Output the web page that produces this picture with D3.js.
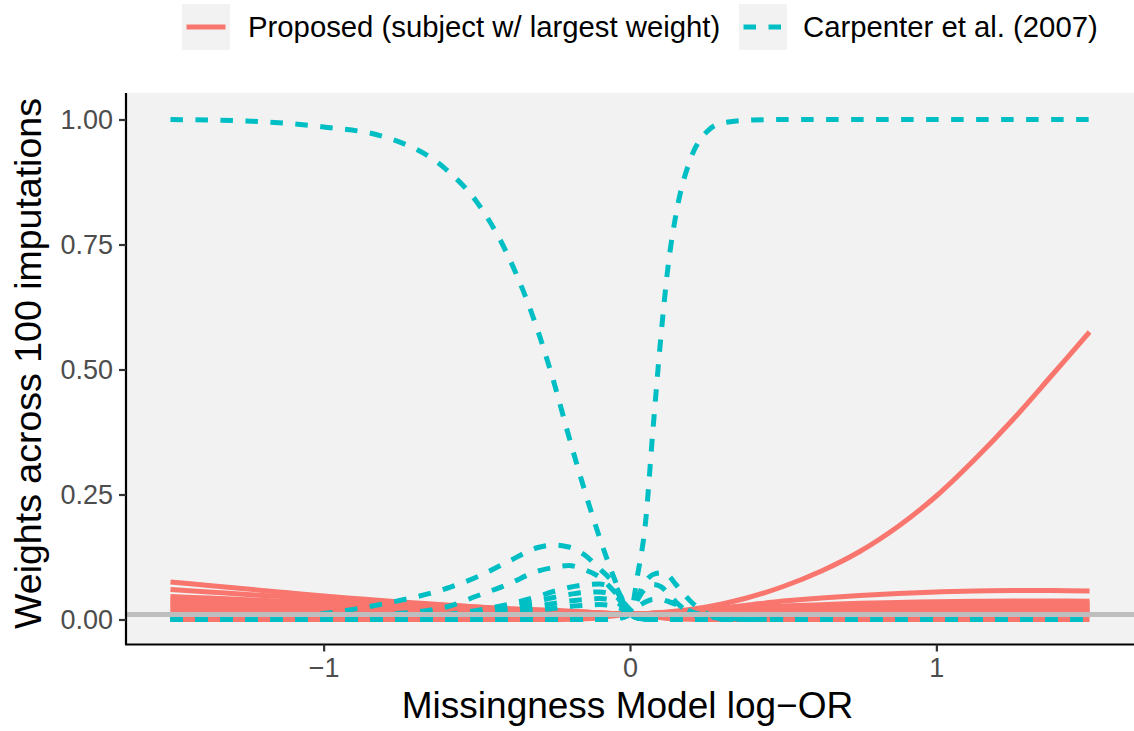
<!DOCTYPE html>
<html>
<head>
<meta charset="utf-8">
<script src="https://cdn.jsdelivr.net/npm/d3@7"></script>
<style>
  html, body { margin: 0; padding: 0; background: #ffffff; }
  svg { display: block; font-family: "Liberation Sans", Arial, sans-serif; }
</style>
</head>
<body>
<svg id="chart" width="1134" height="731"></svg>
<script>
// ---------------- data ----------------
// log-OR grid for the proposed method (every 0.125)
const xGridProp = [-1.5,-1.375,-1.25,-1.125,-1,-0.875,-0.75,-0.625,-0.5,-0.375,-0.25,-0.125,0,
                   0.125,0.25,0.375,0.5,0.625,0.75,0.875,1,1.125,1.25,1.375,1.5];
// log-OR grid for Carpenter et al. (denser near 0)
const xGridCarp = [-1.5,-1.25,-1,-0.8,-0.6,-0.5,-0.4,-0.3,-0.25,-0.2,-0.15,-0.1,-0.05,0,
                   0.025,0.05,0.075,0.1,0.125,0.15,0.2,0.25,0.3,0.4,0.5,0.75,1,1.25,1.5];

// Proposed (subject w/ largest weight) – weights across imputations
const propA = [0.075,0.068,0.061,0.054,0.047,0.041,0.035,0.030,0.025,0.0205,0.018,0.014,0.011,
               0.015,0.025,0.042,0.066,0.097,0.136,0.186,0.247,0.32,0.40,0.487,0.575];
const propB = [0.06,0.055,0.05,0.0455,0.041,0.0365,0.0325,0.0285,0.025,0.021,0.018,0.014,0.011,
               0.014,0.02,0.028,0.037,0.043,0.048,0.052,0.055,0.057,0.058,0.058,0.057];
const propC = [0.046,0.0429,0.0397,0.0367,0.0338,0.0311,0.0285,0.0257,0.0229,0.0198,0.0168,0.0138,0.011,
               0.0144,0.0188,0.0232,0.0269,0.0297,0.0323,0.0341,0.0354,0.0364,0.037,0.037,0.0367];
const propD = [0.04,0.0374,0.0348,0.0323,0.0299,0.0277,0.0255,0.0232,0.0209,0.0183,0.0158,0.0133,0.011,
               0.0136,0.017,0.0204,0.0232,0.0254,0.0274,0.0288,0.0298,0.0305,0.031,0.031,0.0308];
const propE = [0.034,0.0319,0.0299,0.0279,0.026,0.0242,0.0225,0.0207,0.0188,0.0168,0.0148,0.0128,0.011,
               0.013,0.0155,0.0181,0.0202,0.0218,0.0233,0.0244,0.0251,0.0256,0.026,0.026,0.0259];
const propF = [0.028,0.0265,0.0249,0.0235,0.0221,0.0208,0.0195,0.0181,0.0168,0.0153,0.0138,0.0124,0.011,
               0.0123,0.014,0.0157,0.0171,0.0182,0.0192,0.0199,0.0204,0.0208,0.021,0.021,0.0209];
const propG = [0.022,0.021,0.02,0.0191,0.0182,0.0173,0.0165,0.0156,0.0147,0.0138,0.0128,0.0119,0.011,
               0.0118,0.0128,0.0138,0.0147,0.0153,0.0159,0.0163,0.0166,0.0169,0.017,0.017,0.0169];
const propH = [0.016,0.0155,0.0151,0.0147,0.0143,0.0139,0.0135,0.0131,0.0127,0.0123,0.0118,0.0114,0.011,
               0.0113,0.0116,0.0119,0.0121,0.0123,0.0125,0.0127,0.0128,0.0129,0.013,0.013,0.013];
const propZ = [0,0,0,0,0,0,0,0,0,0,0,0.002,0.01,
               0.002,0,0,0,0,0,0,0,0,0,0,0];

// Carpenter et al. (2007) – weights across imputations
const carpA = [1.0,0.997,0.985,0.965,0.90,0.835,0.73,0.576,0.478,0.367,0.262,0.165,0.08,0.01,
               0.003,0.001,0,0,0,0,0,0,0,0,0,0,0,0,0];
const carpB = [0,0,0,0,0,0,0,0,0,0,0,0,0.001,0.01,
               0.09,0.19,0.38,0.56,0.71,0.81,0.925,0.975,0.993,0.999,1,1,1,1,1];
const carpC = [0,0.003,0.012,0.032,0.062,0.085,0.115,0.144,0.149,0.145,0.13,0.102,0.07,0.012,
               0.003,0.001,0,0,0,0,0,0,0,0,0,0,0,0,0];
const carpD = [0,0.001,0.004,0.01,0.025,0.047,0.07,0.097,0.104,0.108,0.1,0.085,0.055,0.02,
               0.006,0.002,0,0,0,0,0,0,0,0,0,0,0,0,0];
const carpE = [0,0,0,0,0,0,0,0,0,0,0,0,0.002,0.012,
               0.045,0.075,0.09,0.093,0.088,0.07,0.035,0.012,0.004,0.0005,0,0,0,0,0];
const carpF = [0,0,0,0,0,0,0,0,0,0,0,0,0.002,0.012,
               0.04,0.062,0.07,0.066,0.052,0.035,0.012,0.003,0.001,0,0,0,0,0,0];
const carpG = [0,0,0.001,0.003,0.01,0.018,0.03,0.046,0.056,0.064,0.069,0.071,0.06,0.012,
               0.003,0.001,0,0,0,0,0,0,0,0,0,0,0,0,0];
const carpH = [0,0,0.001,0.002,0.008,0.014,0.024,0.037,0.044,0.05,0.054,0.055,0.048,0.012,
               0.003,0.001,0,0,0,0,0,0,0,0,0,0,0,0,0];
const carpI = [0,0,0,0.001,0.006,0.01,0.017,0.027,0.032,0.037,0.04,0.042,0.037,0.011,
               0.003,0.001,0,0,0,0,0,0,0,0,0,0,0,0,0];
const carpJ = [0,0,0,0.001,0.004,0.007,0.012,0.019,0.022,0.026,0.028,0.03,0.027,0.011,
               0.003,0.001,0,0,0,0,0,0,0,0,0,0,0,0,0];
const carpK = [0,0,0,0,0,0,0,0,0,0,0,0,0.001,0.011,
               0.025,0.035,0.04,0.04,0.036,0.03,0.016,0.007,0.002,0,0,0,0,0,0];
const carpZ = [0,0,0,0,0,0,0,0,0,0,0,0,0.003,0.01,
               0.004,0.001,0,0,0,0,0,0,0,0,0,0,0,0,0];

const proposedSeries = [propZ, propH, propG, propF, propE, propD, propC, propB, propA];
const carpenterSeries = [carpZ, carpA, carpB, carpC, carpD, carpE, carpF, carpG, carpH, carpI, carpJ, carpK];

const referenceWeight = 0.01; // 1 / 100 imputations
const xTicks = [-1, 0, 1];
const yTicks = [0, 0.25, 0.5, 0.75, 1];
const legendLabels = ["Proposed (subject w/ largest weight)", "Carpenter et al. (2007)"];
const xTitle = "Missingness Model log\u2212OR";
const yTitle = "Weights across 100 imputations";

// ---------------- layout ----------------
const RED = "#F8766D", CYAN = "#00BFC4";
const DASH = 12.5, PERIOD = 25;
const svg = d3.select("#chart");
const panel = { left: 125, right: 1136, top: 93, bottom: 644.5 };

const x = d3.scaleLinear().domain([-1.65, 1.65]).range([124.5, 1135.5]);
const y = d3.scaleLinear().domain([-0.05, 1.05]).range([644.5, 94.5]);

// panel background
svg.append("rect")
  .attr("x", panel.left).attr("y", panel.top)
  .attr("width", panel.right - panel.left).attr("height", panel.bottom - panel.top)
  .attr("fill", "#F2F2F2");

const redLine = d3.line()
  .x(d => x(d[0])).y(d => y(d[1]))
  .curve(d3.curveCatmullRom.alpha(0.5));
const cyanLine = d3.line()
  .x(d => x(d[0])).y(d => y(d[1]))
  .curve(d3.curveMonotoneX);

const g = svg.append("g");
g.selectAll("path.prop").data(proposedSeries).join("path")
  .attr("class", "prop")
  .attr("d", vals => redLine(vals.map((v, i) => [xGridProp[i], v])))
  .attr("fill", "none").attr("stroke", RED)
  .attr("stroke-width", 5).attr("stroke-linecap", "butt").attr("stroke-linejoin", "round");

// Carpenter lines: flat zero runs are drawn with dashes aligned to a common phase
const x0px = x(xGridCarp[0]);
const phase = px => ((px - x0px) % PERIOD + PERIOD) % PERIOD;
carpenterSeries.forEach(vals => {
  const pts = vals.map((v, i) => [xGridCarp[i], v]);
  const n = vals.length;
  const first = vals.findIndex(v => v !== 0);
  let last = n - 1;
  while (last >= 0 && vals[last] === 0) last--;
  const pieces = [];
  const a = Math.max(first - 1, 0), b = Math.min(last + 1, n - 1);
  if (a > 0) pieces.push(pts.slice(0, a + 1));
  pieces.push(pts.slice(a, b + 1));
  if (b < n - 1) pieces.push(pts.slice(b, n));
  pieces.forEach(p => {
    g.append("path")
      .attr("d", cyanLine(p))
      .attr("fill", "none").attr("stroke", CYAN)
      .attr("stroke-width", 5)
      .attr("stroke-dasharray", `${DASH},${DASH}`)
      .attr("stroke-dashoffset", phase(x(p[0][0])))
      .attr("stroke-linecap", "butt").attr("stroke-linejoin", "round");
  });
});

// reference line at 1/100
svg.append("line")
  .attr("x1", panel.left).attr("x2", panel.right)
  .attr("y1", y(referenceWeight)).attr("y2", y(referenceWeight))
  .attr("stroke", "#BEBEBE").attr("stroke-width", 5);

// axes
const xAxis = d3.axisBottom(x).tickValues(xTicks).tickSize(7).tickPadding(6)
  .tickFormat(d => d < 0 ? "\u2212" + Math.abs(d) : String(d));
const gx = svg.append("g").attr("transform", `translate(0,${panel.bottom})`).call(xAxis);
gx.select(".domain").attr("d", `M${panel.left},0H${panel.right}`).attr("stroke", "#000").attr("stroke-width", 2.2);
gx.selectAll(".tick line").attr("stroke", "#333").attr("stroke-width", 2.2);
gx.selectAll(".tick text").attr("fill", "#4D4D4D").attr("font-size", 27)
  .attr("font-family", "Liberation Sans, Arial, sans-serif");

const yAxis = d3.axisLeft(y).tickValues(yTicks).tickSize(7).tickPadding(6)
  .tickFormat(d3.format(".2f"));
const gy = svg.append("g").attr("transform", `translate(${panel.left + 1},0)`).call(yAxis);
gy.select(".domain").attr("d", `M0,${panel.top}V${panel.bottom}`).attr("stroke", "#000").attr("stroke-width", 2.2);
gy.selectAll(".tick line").attr("stroke", "#333").attr("stroke-width", 2.2);
gy.selectAll(".tick text").attr("fill", "#4D4D4D").attr("font-size", 27)
  .attr("font-family", "Liberation Sans, Arial, sans-serif");

// axis titles
svg.append("text")
  .attr("x", (panel.left + panel.right) / 2 - 3).attr("y", 718)
  .attr("text-anchor", "middle").attr("font-size", 37).attr("fill", "#000")
  .text(xTitle);
svg.append("text")
  .attr("transform", `translate(41,${(94.5 + 644.5) / 2 - 6}) rotate(-90)`)
  .attr("text-anchor", "middle").attr("font-size", 37.5).attr("fill", "#000")
  .text(yTitle);

// legend
const legendItems = [
  { label: legendLabels[0], color: RED, dash: null, keyX: 182, textX: 248 },
  { label: legendLabels[1], color: CYAN, dash: `${DASH},${DASH}`, keyX: 739, textX: 803 }
];
const lg = svg.append("g");
legendItems.forEach(it => {
  lg.append("rect").attr("x", it.keyX).attr("y", 4).attr("width", 48).attr("height", 46).attr("fill", "#F2F2F2");
  lg.append("line").attr("x1", it.keyX + 4.5).attr("x2", it.keyX + 43.5).attr("y1", 27).attr("y2", 27)
    .attr("stroke", it.color).attr("stroke-width", 5).attr("stroke-dasharray", it.dash);
  lg.append("text").attr("x", it.textX).attr("y", 37).attr("font-size", 29.3).attr("fill", "#000").text(it.label);
});
</script>
</body>
</html>
